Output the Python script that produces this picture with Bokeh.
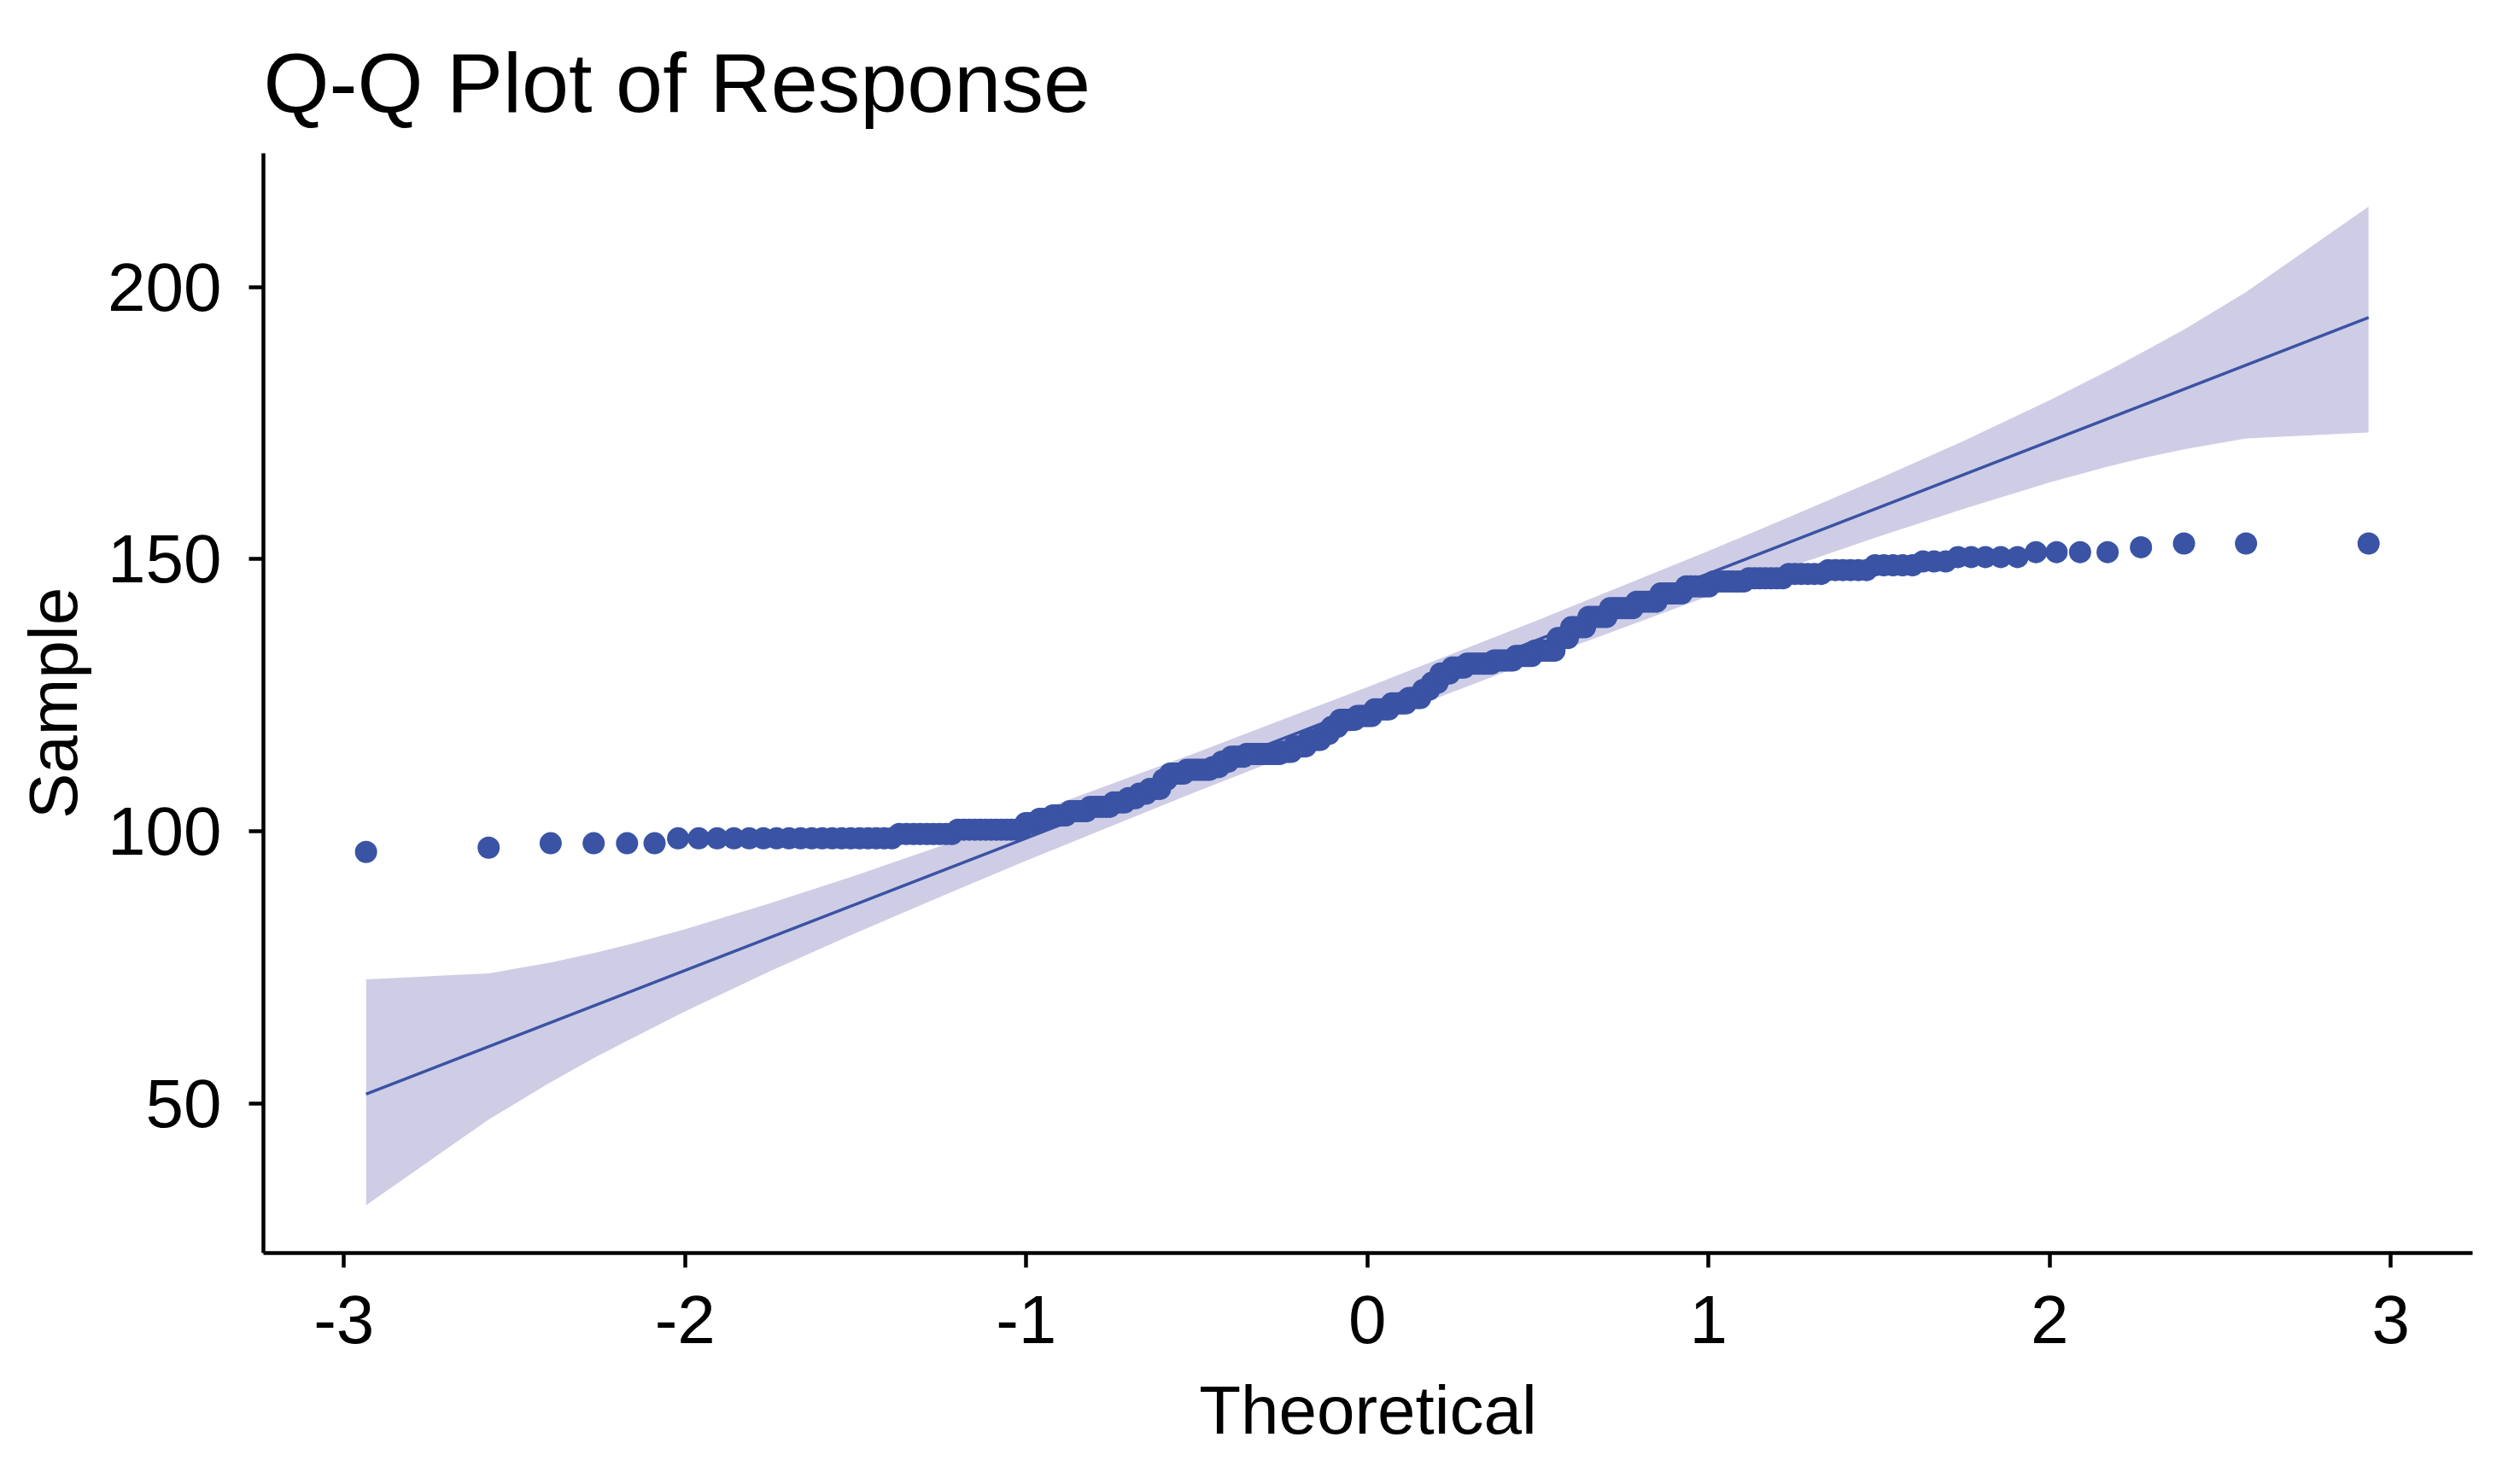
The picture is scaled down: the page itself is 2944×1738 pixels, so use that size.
from statistics import NormalDist
import numpy as np
from bokeh.plotting import figure
from bokeh.models import Range1d, FixedTicker, ColumnDataSource
from bokeh.embed import file_html
from bokeh.resources import INLINE

# ---- data ----
# sorted sample values, as runs of (level, count)
sample_levels = [96.2, 97.0, 97.8, 98.7, 99.5, 100.3, 101.5, 102.3, 102.9, 103.7,
                 104.5, 105.3, 106.1, 106.9, 107.8, 109.5, 110.6, 111.3, 111.8, 112.8,
                 113.7, 114.2, 114.6, 115.6, 116.8, 117.9, 119.2, 120.5, 121.2, 122.4,
                 123.5, 124.5, 126.0, 127.3, 129.0, 130.1, 130.8, 131.4, 132.2, 133.2,
                 135.5, 137.5, 139.4, 141.0, 142.2, 143.7, 145.0, 145.9, 146.5, 147.3,
                 148.0, 148.9, 149.6, 150.4, 151.3, 152.2, 152.9]
sample_counts = [1, 1, 4, 19, 9, 13, 3, 3, 4, 5,
                 6, 4, 3, 3, 4, 2, 5, 8, 3, 3,
                 5, 12, 4, 5, 5, 3, 3, 6, 6, 6,
                 6, 5, 3, 3, 4, 5, 9, 7, 6, 7,
                 4, 5, 6, 7, 6, 6, 6, 7, 7, 6,
                 6, 5, 3, 5, 4, 1, 3]

# reference line (sample value at the lowest and highest theoretical quantile)
line_y_ends = [51.7, 194.4]

# confidence band read at theoretical quantiles
band_x = [-2.935, -2.576, -2.394, -2.268, -2.17, -2.0, -1.75, -1.5, -1.25, -1.0, -0.5, 0.0,
          0.5, 1.0, 1.25, 1.5, 1.75, 2.0, 2.17, 2.268, 2.394, 2.576, 2.935]
band_lower = [31.3, 47.0, 53.9, 58.3, 61.5, 66.9, 74.3, 81.3, 88.0, 94.6, 107.3, 119.6,
              131.6, 143.2, 148.8, 154.2, 159.3, 164.1, 167.0, 168.5, 170.2, 172.2, 173.3]
band_upper = [72.8, 73.9, 75.9, 77.6, 79.1, 82.0, 86.8, 91.9, 97.3, 102.9, 114.5, 126.5,
              138.8, 151.5, 158.1, 164.8, 171.8, 179.2, 184.6, 187.9, 192.2, 199.1, 214.8]

x_ticks = [-3, -2, -1, 0, 1, 2, 3]
x_tick_labels = ["-3", "-2", "-1", "0", "1", "2", "3"]
y_ticks = [50, 100, 150, 200]

# ---- derived: theoretical normal quantiles (ppoints) ----
sample = np.repeat(sample_levels, sample_counts)
n = len(sample)
probs = (np.arange(1, n + 1) - 0.5) / n
nd = NormalDist()
theoretical = np.array([nd.inv_cdf(p) for p in probs])

PT = "#3A53A4"
BAND = "#CFCDE6"
FONT = "Liberation Sans"

p = figure(width=2928, height=1722, output_backend="svg", toolbar_location=None,
           x_range=Range1d(-3.236, 3.24), y_range=Range1d(22.5, 224.6),
           min_border_left=308, min_border_right=33, min_border_top=179, min_border_bottom=255)
p.outline_line_color = None
p.xgrid.visible = False
p.ygrid.visible = False
p.background_fill_color = "white"
p.border_fill_color = "white"

p.varea(x=band_x, y1=band_lower, y2=band_upper, fill_color=BAND)
p.line(x=[theoretical[0], theoretical[-1]], y=line_y_ends, line_color=PT, line_width=3.5)
src = ColumnDataSource(dict(x=theoretical, y=sample))
p.scatter(x="x", y="y", source=src, size=26, marker="circle", fill_color=PT, line_color=PT, line_width=0)

p.title.text = "Q-Q Plot of Response"
p.title.text_font = FONT
p.title.text_font_size = "99px"
p.title.text_font_style = "normal"
p.title.text_color = "black"
p.title.align = "left"
p.title.standoff = 56

for ax, lab in ((p.xaxis[0], "Theoretical"), (p.yaxis[0], "Sample")):
    ax.axis_label = lab
    ax.axis_label_text_font = FONT
    ax.axis_label_text_font_size = "80px"
    ax.axis_label_text_font_style = "normal"
    ax.axis_label_text_color = "black"
    ax.major_label_text_font = FONT
    ax.major_label_text_font_size = "80px"
    ax.major_label_text_color = "black"
    ax.axis_line_width = 4.5
    ax.axis_line_color = "black"
    ax.major_tick_line_width = 4.5
    ax.major_tick_line_color = "black"
    ax.major_tick_out = 17
    ax.major_tick_in = 0
    ax.minor_tick_line_color = None

p.xaxis[0].ticker = FixedTicker(ticks=x_ticks)
p.xaxis[0].major_label_overrides = {t: s for t, s in zip(x_ticks, x_tick_labels)}
p.yaxis[0].ticker = FixedTicker(ticks=y_ticks)
p.xaxis[0].major_label_standoff = 33
p.xaxis[0].axis_label_standoff = 31
p.yaxis[0].major_label_standoff = 32
p.yaxis[0].axis_label_standoff = 16

open("out.html", "w").write(file_html(p, INLINE))
